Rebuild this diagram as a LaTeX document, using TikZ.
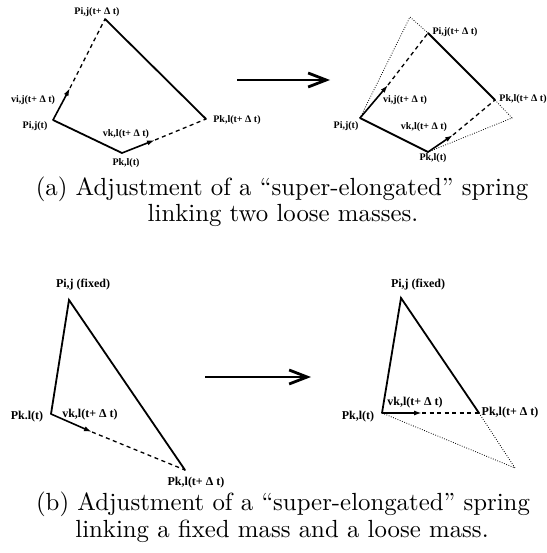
\documentclass[tikz,border=0pt]{standalone}
\usepackage{fontspec}
\newfontfamily\labfont{Liberation Serif}
\usetikzlibrary{arrows.meta}
\tikzset{
  spring/.style={line width=1.8pt, line join=miter, line cap=round},
  vel/.style={line width=1.6pt, -{Latex[length=8pt,width=5pt]}},
  dashedline/.style={line width=1.3pt, dash pattern=on 4pt off 3.5pt},
  dottedline/.style={line width=0.8pt, dash pattern=on 0.8pt off 1.6pt},
  bigarrow/.style={line width=2.8pt, -{Straight Barb[length=18pt,width=14pt]}},
  lab/.style={inner sep=0pt, font=\labfont\bfseries\fontsize{10}{12}\selectfont},
  labb/.style={inner sep=0pt, font=\labfont\bfseries\fontsize{12}{14}\selectfont},
  captext/.style={inner sep=0pt, anchor=base, font=\fontsize{10}{12}\selectfont}
}
\begin{document}
\begin{tikzpicture}[x=1pt,y=-1pt]
\useasboundingbox (0,0) rectangle (546,553);
% ---------- top left ----------
\coordinate (A) at (53,120);
\coordinate (B) at (105,19);
\coordinate (C) at (206,119);
\coordinate (D) at (122,153);
\coordinate (tA) at (70,88);
\coordinate (tD) at (155,140);
\draw[dashedline] (tA) -- (B);
\draw[dashedline] (tD) -- (C);
\draw[spring] (B) -- (C);
\draw[spring] (A) -- (D);
\draw[vel] (A) -- (tA);
\draw[vel] (D) -- (tD);
\node[lab] (lB) at (97,12) {Pi,j(t+ Δ t)};
\node[lab] (lvA) at (33,100) {vi,j(t+ Δ t)};
\node[lab] (lA) at (35,126) {Pi,j(t)};
\node[lab] (lvD) at (126,134) {vk,l(t+ Δ t)};
\node[lab] (lD) at (126,163) {Pk,l(t)};
\node[lab] (lC) at (237,120) {Pk,l(t+ Δ t)};
% ---------- top arrow ----------
\coordinate (ta1) at (237,80);
\coordinate (ta2) at (330,80);
\draw[bigarrow] (ta1) -- (ta2);
% ---------- top right ----------
\coordinate (A2) at (360,118);
\coordinate (B2) at (428,33);
\coordinate (E) at (410,17);
\coordinate (C2) at (495,100);
\coordinate (F) at (512,118);
\coordinate (D2) at (428,152);
\coordinate (tA2) at (388,85);
\coordinate (tD2) at (453,135);
\draw[dottedline] (A2) -- (E) -- (B2);
\draw[dottedline] (C2) -- (F) -- (D2);
\draw[dashedline] (tA2) -- (B2);
\draw[dashedline] (tD2) -- (C2);
\draw[spring] (B2) -- (C2);
\draw[spring] (A2) -- (D2);
\draw[vel] (A2) -- (tA2);
\draw[vel] (D2) -- (tD2);
\node[lab] (lB2) at (455,32) {Pi,j(t+ Δ t)};
\node[lab] (lvA2) at (405,100) {vi,j(t+ Δ t)};
\node[lab] (lA2) at (346,126) {Pi,j(t)};
\node[lab] (lvD2) at (424,127) {vk,l(t+ Δ t)};
\node[lab] (lD2) at (433,158) {Pk,l(t)};
\node[lab] (lC2) at (523,99) {Pk,l(t+ Δ t)};
% ---------- caption a ----------
\node[captext] (capa1) at (282,196) {\scalebox{2.48}{(a) Adjustment of a “super-elongated” spring}};
\node[captext] (capa2) at (283,222) {\scalebox{2.48}{linking two loose masses.}};
% ---------- bottom left ----------
\coordinate (P) at (69,300);
\coordinate (Q) at (51,414);
\coordinate (R) at (185,470);
\coordinate (tQ) at (92,432);
\draw[dashedline] (tQ) -- (R);
\draw[spring] (Q) -- (P) -- (R);
\draw[vel] (Q) -- (tQ);
\node[labb] (lP) at (83,285) {Pi,j (fixed)};
\node[labb] (lQ) at (27,417) {Pk.l(t)};
\node[labb] (lvQ) at (90,415) {vk,l(t+ Δ t)};
\node[labb] (lR) at (196,483) {Pk,l(t+ Δ t)};
% ---------- bottom arrow ----------
\coordinate (ba1) at (205,377);
\coordinate (ba2) at (311,377);
\draw[bigarrow] (ba1) -- (ba2);
% ---------- bottom right ----------
\coordinate (P2) at (401,298);
\coordinate (Q2) at (382,413);
\coordinate (R2) at (479,413);
\coordinate (S) at (515,468);
\coordinate (tQ2) at (422,413);
\draw[dottedline] (Q2) -- (S) -- (R2);
\draw[dashedline] (tQ2) -- (R2);
\draw[spring] (Q2) -- (P2) -- (R2);
\draw[vel] (Q2) -- (tQ2);
\node[labb] (lP2) at (418,285) {Pi,j (fixed)};
\node[labb] (lQ2) at (358,417) {Pk,l(t)};
\node[labb] (lvQ2) at (415,403) {vk,l(t+ Δ t)};
\node[labb] (lR2) at (510,413) {Pk,l(t+ Δ t)};
% ---------- caption b ----------
\node[captext] (capb1) at (283,510) {\scalebox{2.48}{(b) Adjustment of a “super-elongated” spring}};
\node[captext] (capb2) at (282,537) {\scalebox{2.48}{linking a fixed mass and a loose mass.}};
\end{tikzpicture}
\end{document}
